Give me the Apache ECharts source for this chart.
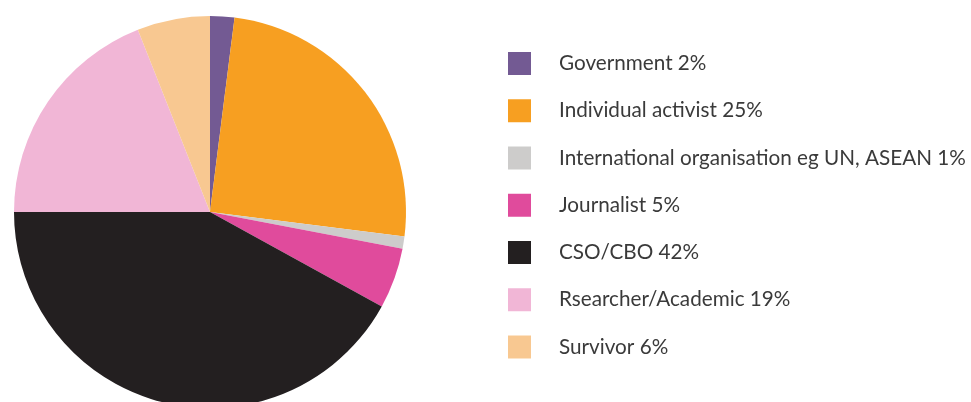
<!DOCTYPE html>
<html>
<head>
<meta charset="utf-8">
<script src="https://cdn.jsdelivr.net/npm/echarts@6/dist/echarts.min.js"></script>
<style>
	html, body { margin: 0; padding: 0; background: #fff; }
	#main { width: 971px; height: 402px; }
</style>
</head>
<body>
<div id="main"></div>
<script>
// data
const categories = ["Government", "Individual activist", "International organisation eg UN, ASEAN", "Journalist", "CSO/CBO", "Rsearcher/Academic", "Survivor"];
const shares = [2, 25, 1, 5, 42, 19, 6];
const colors = ["#735a93", "#f79f21", "#cdcccb", "#e04b9c", "#231f20", "#f1b6d6", "#f8c891"];

const chart = echarts.init(document.getElementById("main"));
const option = {
	animation: false,
	color: colors,
	legend: {
		orient: "vertical",
		left: 508,
		top: 52,
		padding: 0,
		icon: "rect",
		itemWidth: 23,
		itemHeight: 23,
		itemGap: 24.25,
		selectedMode: false,
		formatter: (name) => name + " " + shares[categories.indexOf(name)] + "%",
		textStyle: {
			fontFamily: "Lato",
			fontSize: 20.7,
			lineHeight: 23,
			color: "#3a3a3a",
			padding: [0, 0, 0, 23]
		},
		data: categories
	},
	series: [
		{
			type: "pie",
			center: [210, 212],
			radius: 196,
			startAngle: 90,
			clockwise: true,
			silent: true,
			label: { show: false },
			labelLine: { show: false },
			itemStyle: { borderWidth: 0 },
			data: categories.map((c, i) => ({ name: c, value: shares[i] }))
		}
	]
};
chart.setOption(option);
</script>
</body>
</html>
